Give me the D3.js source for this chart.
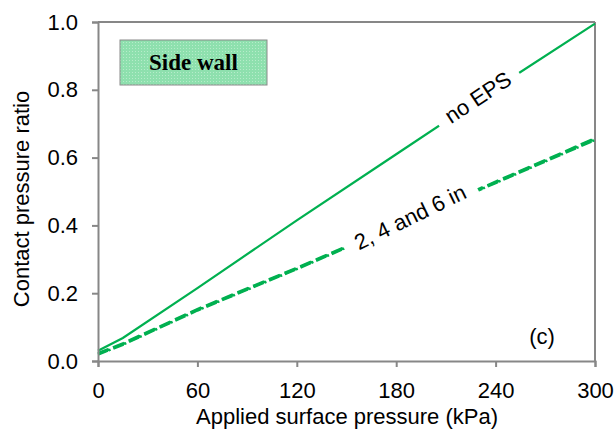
<!DOCTYPE html>
<html><head><meta charset="utf-8">
<script src="https://cdn.jsdelivr.net/npm/d3@7"></script>
<style>body{margin:0;background:#fff}svg{display:block}</style>
</head><body>
<svg id="c" width="615" height="436"></svg>
<script>
const pressure = [0, 15, 60, 120, 180, 240, 300];
const noEPS   = [0.03, 0.068, 0.215, 0.415, 0.61, 0.805, 0.995];
const eps2in  = [0.021, 0.05, 0.151, 0.273, 0.4, 0.527, 0.655];
const eps4in  = [0.023, 0.052, 0.153, 0.275, 0.402, 0.529, 0.657];
const eps6in  = [0.019, 0.048, 0.149, 0.271, 0.398, 0.525, 0.652];
const xTicks = [0, 60, 120, 180, 240, 300];
const yTicks = [0, 0.2, 0.4, 0.6, 0.8, 1.0];

const svg = d3.select('#c');
const x = d3.scaleLinear().domain([0, 300]).range([98, 595]);
const y = d3.scaleLinear().domain([0, 1]).range([361, 22]);
const axisCol = '#878787', green = '#00b050';
const font = 'Liberation Sans, Arial, sans-serif';
const fs = 22;

// top & right border
svg.append('line').attr('x1', x(0)).attr('x2', x(300)).attr('y1', y(1)).attr('y2', y(1))
  .attr('stroke', axisCol).attr('stroke-width', 2);
svg.append('line').attr('x1', x(300)).attr('x2', x(300)).attr('y1', y(1)).attr('y2', y(0))
  .attr('stroke', axisCol).attr('stroke-width', 2);

const line = d3.line().x(d => x(d[0])).y(d => y(d[1]));
const mk = arr => pressure.map((p, i) => [p, arr[i]]);

// series
svg.append('path').datum(mk(noEPS)).attr('d', line).attr('fill', 'none')
  .attr('stroke', green).attr('stroke-width', 2.2);
[[eps2in, '12,5', 0], [eps4in, '12,5', 1], [eps6in, '11,1,2,3', 0.5]].forEach(([arr, dash, off]) => {
  svg.append('path').datum(mk(arr)).attr('d', line).attr('fill', 'none')
    .attr('stroke', green).attr('stroke-width', 2.5)
    .attr('stroke-dasharray', dash).attr('stroke-dashoffset', off);
});

// labels on lines
function lineLabel(text, kpa, series, angle, w) {
  const v = d3.scaleLinear().domain(pressure).range(series)(kpa);
  const g = svg.append('g').attr('transform', `translate(${x(kpa)},${y(v)}) rotate(${angle})`);
  g.append('rect').attr('x', -w / 2).attr('y', -10).attr('width', w).attr('height', 20).attr('fill', '#fff');
  g.append('text').attr('text-anchor', 'middle').attr('dy', '0.25em')
    .attr('font-family', font).attr('font-size', fs).attr('fill', '#000').text(text);
}
lineLabel('no EPS', 230, noEPS, -33.5, 96);
lineLabel('2, 4 and 6 in', 189, eps2in, -26, 146);

// axes
const ya = svg.append('g').attr('transform', `translate(${x(0)},0)`)
  .call(d3.axisLeft(y).tickValues(yTicks).tickFormat(d3.format('.1f')).tickSize(6).tickPadding(14));
const xa = svg.append('g').attr('transform', `translate(0,${y(0)})`)
  .call(d3.axisBottom(x).tickValues(xTicks).tickSize(6).tickPadding(15));
[ya, xa].forEach(a => {
  a.select('.domain').attr('stroke', axisCol).attr('stroke-width', 2);
  a.selectAll('.tick line').attr('stroke', axisCol).attr('stroke-width', 2);
  a.selectAll('.tick text').attr('font-family', font).attr('font-size', fs).attr('fill', '#000');
});

// axis titles
svg.append('text').attr('x', 347).attr('y', 424).attr('text-anchor', 'middle')
  .attr('font-family', font).attr('font-size', fs).text('Applied surface pressure (kPa)');
svg.append('text').attr('transform', 'translate(29,199) rotate(-90)').attr('text-anchor', 'middle')
  .attr('font-family', font).attr('font-size', fs).text('Contact pressure ratio');

// Side wall box
const defs = svg.append('defs');
const pat = defs.append('pattern').attr('id', 'dots').attr('width', 3).attr('height', 3)
  .attr('patternUnits', 'userSpaceOnUse');
pat.append('rect').attr('width', 3).attr('height', 3).attr('fill', '#8ee0ae');
pat.append('rect').attr('width', 1).attr('height', 1).attr('fill', '#b6ecca');
svg.append('rect').attr('x', 120).attr('y', 40).attr('width', 147).attr('height', 45)
  .attr('fill', 'url(#dots)').attr('stroke', '#8a8a8a').attr('stroke-width', 1);
svg.append('text').attr('x', 193.5).attr('y', 70).attr('text-anchor', 'middle')
  .attr('font-family', 'Liberation Serif, Times New Roman, serif').attr('font-weight', 'bold')
  .attr('font-size', 23).text('Side wall');

svg.append('text').attr('x', 542).attr('y', 344).attr('text-anchor', 'middle')
  .attr('font-family', font).attr('font-size', fs).text('(c)');
</script>
</body></html>
